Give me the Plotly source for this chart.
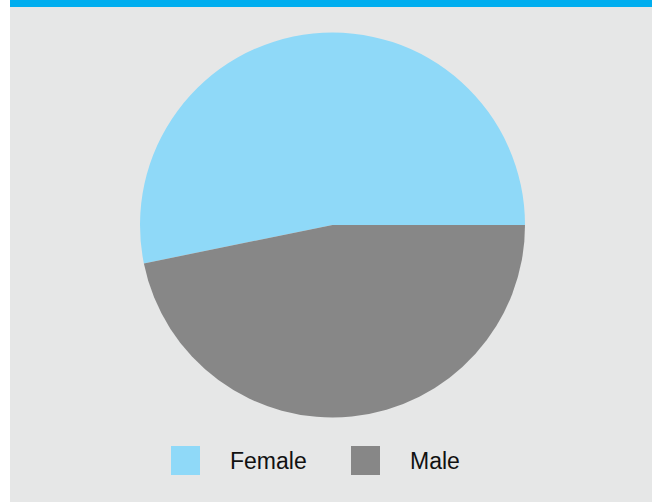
import plotly.graph_objects as go

labels = ["Female", "Male"]
values = [53.2, 46.8]
colors = ["#8FD9F8", "#878787"]

W, H = 652, 502


def px_x(v):
    return v / W


def px_y(v):
    return 1 - v / H


# female slice starts at 3 o'clock and runs counterclockwise
start = 90 - 360 * values[0] / sum(values)

fig = go.Figure([
    go.Pie(
        labels=labels,
        values=values,
        sort=False,
        direction="clockwise",
        rotation=start,
        textinfo="none",
        marker=dict(colors=colors, line=dict(width=0)),
        domain=dict(x=[px_x(140), px_x(525)], y=[px_y(418), px_y(32)]),
        showlegend=False,
    )
])

shapes = [
    # white strip on the left
    dict(type="rect", xref="paper", yref="paper", x0=0, x1=px_x(10), y0=0, y1=1,
         fillcolor="white", line=dict(width=0)),
    # blue bar on top
    dict(type="rect", xref="paper", yref="paper", x0=px_x(10), x1=1, y0=px_y(7), y1=1,
         fillcolor="#00AEEF", line=dict(width=0)),
]
annotations = []

# hand-made legend (plotly's pie legend swatches are too small)
legend_x = [171, 351]
text_x = [228, 408]
for lab, col, sx, tx in zip(labels, colors, legend_x, text_x):
    shapes.append(dict(type="rect", xref="paper", yref="paper",
                       x0=px_x(sx), x1=px_x(sx + 29), y0=px_y(475), y1=px_y(446),
                       fillcolor=col, line=dict(width=0)))
    annotations.append(dict(text=lab, xref="paper", yref="paper",
                            x=px_x(tx), y=px_y(461), xanchor="left", yanchor="middle",
                            showarrow=False,
                            font=dict(family="Liberation Sans, Arial", size=23, color="#111111")))

fig.update_layout(
    width=W,
    height=H,
    margin=dict(l=0, r=0, t=0, b=0),
    paper_bgcolor="#E6E7E7",
    plot_bgcolor="#E6E7E7",
    shapes=shapes,
    annotations=annotations,
)

fig.write_html("out.html", config={"displayModeBar": False},
               post_script="document.body.style.margin='0';")
